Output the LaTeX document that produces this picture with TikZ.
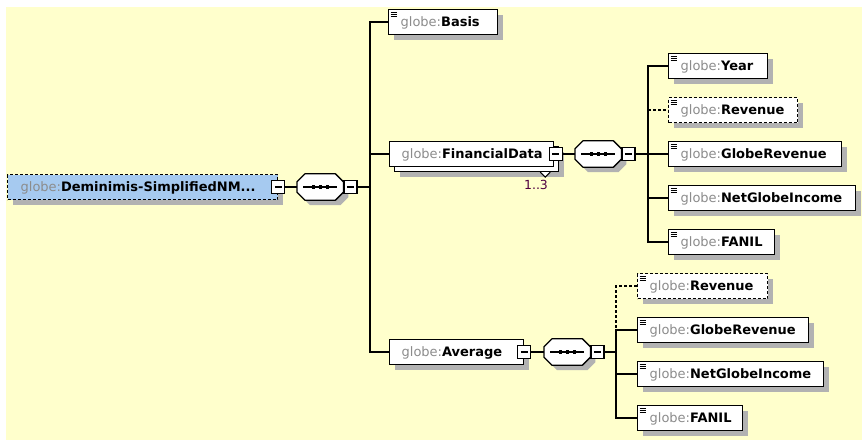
\documentclass[tikz,border=0pt]{standalone}
\usepackage{fontspec}
\setmainfont{DejaVu Sans}
\usetikzlibrary{shadows,calc}
\definecolor{bg}{RGB}{255,255,204}
\definecolor{rootc}{RGB}{166,202,240}
\definecolor{nsc}{RGB}{140,140,140}
\definecolor{shd}{RGB}{178,178,178}
\definecolor{mult}{RGB}{80,0,64}
\newcommand{\gl}[1]{\mbox{\textcolor{nsc}{globe:}\textbf{#1}}}

\begin{document}
\begin{tikzpicture}[x=1pt,y=-1pt,
    font=\fontsize{13}{15}\selectfont,
    box/.style={draw=black,fill=white,line width=1.3pt,anchor=west,
                minimum height=25pt,inner xsep=12pt,inner ysep=0pt,
                text height=11pt,text depth=2pt,align=left,
                drop shadow={shadow xshift=5pt,shadow yshift=-5pt,fill=shd,opacity=1}},
    el/.style={box,path picture={\foreach \k in {2.5,4.5,6.5}
                \draw[solid,line width=.9pt] ([shift={(2,\k)}]path picture bounding box.north west) -- ++(6,0);}},
    opt/.style={el,dash pattern=on 3pt off 2pt},
    stk/.style={box,
                general shadow={shadow xshift=10pt,shadow yshift=-10pt,fill=shd},
                general shadow={shadow xshift=5pt,shadow yshift=-5pt,draw=black,fill=white,line width=1.3pt}},
    mn/.style={draw=black,fill=white,line width=1.1pt,minimum size=13pt,inner sep=0pt,
               path picture={\draw[line width=1.1pt] ([xshift=-3.5pt]path picture bounding box.center)
                 -- ([xshift=3.5pt]path picture bounding box.center);}},
    sq/.style={minimum width=46pt,minimum height=26pt,inner sep=0pt,anchor=west},
    ln/.style={line width=1.2pt}]

    \useasboundingbox (0,0) rectangle (862,440);
    \fill[bg] (6,7) rectangle (862,440);

    % sequence compositors
    \node[sq] (sq1) at (297,187) {};
    \node[sq] (sq2) at (575,154) {};
    \node[sq] (sq3) at (544,352) {};
    \foreach \c in {sq1,sq2,sq3}{
      \fill[shd] ($(\c.north west)+(13,5)$) -- ($(\c.north east)+(-3,5)$) -- ($(\c.north east)+(5,13)$)
        -- ($(\c.south east)+(5,-3)$) -- ($(\c.south east)+(-3,5)$) -- ($(\c.south west)+(13,5)$)
        -- ($(\c.south west)+(5,-3)$) -- ($(\c.north west)+(5,13)$) -- cycle;
      \draw[line width=1.3pt,line join=round,fill=white] ($(\c.north west)+(8,0)$) -- ($(\c.north east)+(-8,0)$)
        -- ($(\c.north east)+(0,8)$) -- ($(\c.south east)+(0,-8)$) -- ($(\c.south east)+(-8,0)$)
        -- ($(\c.south west)+(8,0)$) -- ($(\c.south west)+(0,-8)$) -- ($(\c.north west)+(0,8)$) -- cycle;
      \draw[line width=1.1pt] ($(\c.west)+(6,0)$) -- ($(\c.east)+(-6,0)$);
      \foreach \d in {-7,0,7} \fill ($(\c.center)+(\d,0)$) +(-1.7,-1.7) rectangle +(1.7,1.7);
    }
    \node[mn,anchor=west] (sm1) at (sq1.east) {};
    \node[mn,anchor=west] (sm2) at (sq2.east) {};
    \node[mn,anchor=west] (sm3) at (sq3.east) {};

    % root
    \node[box,fill=rootc,dash pattern=on 3pt off 2pt,inner xsep=13pt,text width=244pt] (root) at (7,187)
      {\gl{Deminimis-SimplifiedNM...}};
    \node[mn] (rm) at (root.east) {};
    \coordinate (t1) at (370,187);

    \node[el,text width=85pt] (basis) at (388,22) {\gl{Basis}};

    \node[stk,text width=140pt] (fin) at (389,154) {\gl{FinancialData}};
    \node[mn] (fm) at ([xshift=1.5pt]fin.east) {};
    \draw[line width=1.1pt,fill=white] ([shift={(-14,5)}]fin.south east) -- ([shift={(-9,10)}]fin.south east)
      -- ([shift={(-4,5)}]fin.south east);
    \node[font=\fontsize{12.5}{14}\selectfont,text=mult] (mul) at (536,185) {1..3};
    \coordinate (t2) at (648,154);

    \node[el,text width=75pt]  (year)   at (668,66)  {\gl{Year}};
    \node[opt,text width=105pt] (rev1)  at (668,110) {\gl{Revenue}};
    \node[el,text width=149pt] (grev1)  at (668,154) {\gl{GlobeRevenue}};
    \node[el,text width=163pt] (ngi1)   at (668,198) {\gl{NetGlobeIncome}};
    \node[el,text width=82pt]  (fanil1) at (668,242) {\gl{FANIL}};

    \node[box,text width=110pt] (avg) at (389,352) {\gl{Average}};
    \node[mn] (am) at (avg.east) {};
    \coordinate (t3) at (616,352);

    \node[opt,text width=106pt] (rev2)  at (637,286) {\gl{Revenue}};
    \node[el,text width=147pt] (grev2)  at (637,330) {\gl{GlobeRevenue}};
    \node[el,text width=162pt] (ngi2)   at (637,374) {\gl{NetGlobeIncome}};
    \node[el,text width=81pt]  (fanil2) at (637,418) {\gl{FANIL}};

    % connectors
    \draw[ln] (rm) -- (sq1);
    \draw[ln] (sm1) -- (t1);
    \draw[ln] (basis.west) -| (t1) |- (avg.west);
    \draw[ln] (t1 |- fin.west) -- (fin.west);
    \draw[ln] (fm) -- (sq2);
    \draw[ln] (sm2) -- (t2) -- (grev1);
    \draw[ln] (year.west) -| (t2) |- (fanil1.west);
    \draw[ln,dash pattern=on 3pt off 2pt] (t2 |- rev1.west) -- (rev1.west);
    \draw[ln] (t2 |- ngi1.west) -- (ngi1.west);
    \draw[ln] (am) -- (sq3);
    \draw[ln] (sm3) -- (t3);
    \draw[ln,dash pattern=on 3pt off 2pt] (rev2.west) -| (t3 |- grev2.west);
    \draw[ln] (grev2.west) -| (t3) |- (fanil2.west);
    \draw[ln] (t3 |- ngi2.west) -- (ngi2.west);
\end{tikzpicture}
\end{document}
